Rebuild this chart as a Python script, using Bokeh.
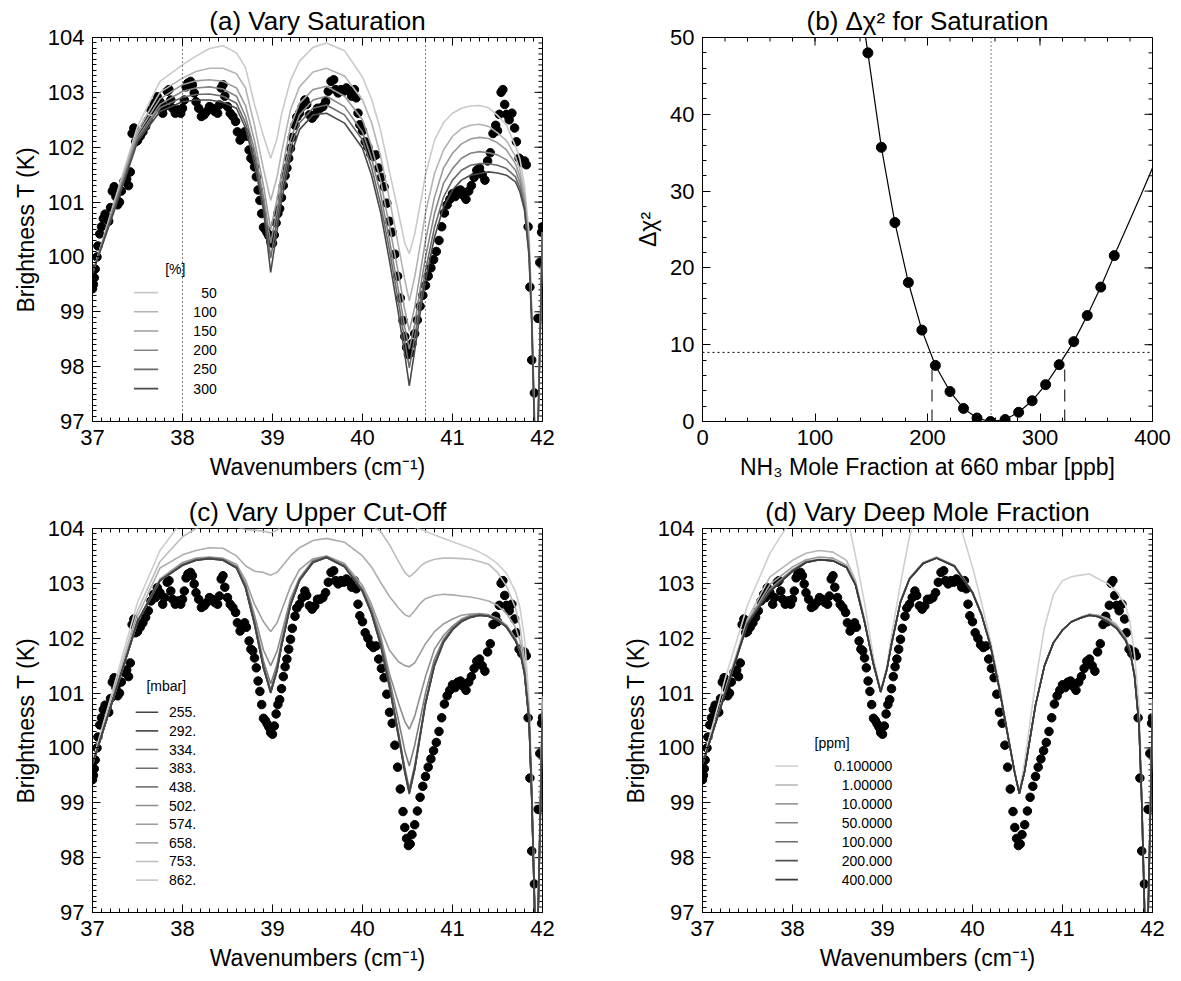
from bokeh.plotting import figure
from bokeh.layouts import gridplot
from bokeh.models import FixedTicker, Range1d, Span
from bokeh.core.properties import value
from bokeh.embed import file_html
from bokeh.resources import INLINE

FONT = "Liberation Sans"

# ---------------- observed spectrum (dots, same in panels a, c, d) ----------------
obs_wn = [37.00, 37.01, 37.02, 37.03, 37.05, 37.06, 37.08, 37.10, 37.12, 37.14, 37.16, 37.18, 37.20, 37.22,
          37.24, 37.26, 37.28, 37.30, 37.32, 37.35, 37.38, 37.40, 37.42, 37.44, 37.46, 37.48, 37.50, 37.53,
          37.56, 37.59, 37.62, 37.65, 37.68, 37.70, 37.72, 37.75, 37.78, 37.80, 37.83, 37.85, 37.87, 37.89,
          37.92, 37.95, 37.98, 38.00, 38.02, 38.04, 38.06, 38.09, 38.11, 38.13, 38.15, 38.18, 38.21, 38.24,
          38.27, 38.30, 38.33, 38.36, 38.39, 38.41, 38.43, 38.45, 38.47, 38.50, 38.53, 38.56, 38.59, 38.61,
          38.64, 38.66, 38.69, 38.71, 38.74, 38.76, 38.78, 38.80, 38.82, 38.84, 38.86, 38.88, 38.90, 38.92,
          38.94, 38.96, 38.98, 39.00, 39.02, 39.04, 39.06, 39.08, 39.10, 39.12, 39.14, 39.16, 39.18, 39.20,
          39.22, 39.25, 39.27, 39.30, 39.33, 39.36, 39.38, 39.41, 39.44, 39.47, 39.50, 39.53, 39.56, 39.59,
          39.62, 39.65, 39.68, 39.70, 39.73, 39.76, 39.79, 39.82, 39.85, 39.88, 39.91, 39.93, 39.95, 39.97,
          40.00, 40.03, 40.06, 40.09, 40.12, 40.15, 40.18, 40.21, 40.24, 40.27, 40.30, 40.33, 40.36, 40.39,
          40.42, 40.45, 40.47, 40.49, 40.51, 40.53, 40.55, 40.58, 40.61, 40.64, 40.67, 40.70, 40.73, 40.76,
          40.79, 40.82, 40.85, 40.88, 40.91, 40.94, 40.97, 41.00, 41.03, 41.06, 41.09, 41.12, 41.15, 41.18,
          41.21, 41.24, 41.27, 41.30, 41.33, 41.36, 41.39, 41.42, 41.45, 41.48, 41.50, 41.52, 41.54, 41.56,
          41.58, 41.60, 41.63, 41.66, 41.69, 41.71, 41.74, 41.77, 41.80, 41.82, 41.84, 41.86, 41.88, 41.91,
          41.95, 41.97, 41.99, 42.00]
obs_tb = [99.42, 99.50, 99.62, 99.78, 100.00, 100.20, 100.42, 100.55, 100.70, 100.78, 100.72, 100.65, 100.90, 101.20,
          101.28, 101.10, 100.95, 101.00, 101.20, 101.38, 101.42, 101.30, 101.55, 102.25, 102.35, 102.10, 102.12, 102.20,
          102.28, 102.38, 102.50, 102.68, 102.80, 102.74, 102.92, 102.83, 102.62, 102.74, 103.02, 103.05, 102.86, 102.71,
          102.62, 102.68, 102.62, 102.71, 102.86, 103.10, 103.17, 103.20, 103.14, 102.99, 102.83, 102.71, 102.56, 102.59,
          102.65, 102.74, 102.71, 102.65, 102.62, 102.77, 103.08, 103.14, 102.93, 102.74, 102.62, 102.56, 102.47, 102.28,
          102.13, 102.20, 102.28, 102.20, 101.95, 101.80, 101.77, 101.64, 101.46, 101.22, 101.03, 100.79, 100.54, 100.50,
          100.44, 100.38, 100.28, 100.25, 100.40, 100.62, 100.79, 100.88, 101.08, 101.30, 101.48, 101.62, 101.80, 101.98,
          102.18, 102.40, 102.55, 102.62, 102.74, 102.86, 102.78, 102.59, 102.53, 102.59, 102.71, 102.71, 102.74, 102.83,
          103.02, 103.20, 103.23, 103.05, 102.99, 103.05, 103.02, 103.08, 103.02, 102.93, 103.05, 102.90, 102.62, 102.41,
          102.30, 102.10, 102.00, 101.88, 101.83, 101.86, 101.62, 101.45, 101.28, 100.98, 100.65, 100.45, 100.05, 99.65,
          99.25, 98.84, 98.55, 98.35, 98.22, 98.25, 98.42, 98.60, 98.85, 99.10, 99.30, 99.48, 99.65, 99.80,
          99.95, 100.10, 100.30, 100.55, 100.80, 100.95, 101.05, 101.15, 101.10, 101.20, 101.22, 101.12, 101.05, 101.20,
          101.30, 101.45, 101.58, 101.62, 101.50, 101.40, 101.75, 101.90, 102.25, 102.40, 102.30, 102.60, 103.00, 103.05,
          102.78, 102.60, 102.50, 102.62, 102.35, 102.10, 101.80, 101.72, 101.75, 101.68, 100.55, 99.45, 98.12, 97.52,
          98.88, 99.90, 100.45, 100.55]

# ---------------- model wavenumber grid (panels a, c, d) ----------------
model_wn = [37.0, 37.25, 37.5, 37.75, 38.0, 38.15, 38.3, 38.45, 38.6, 38.7, 38.8, 38.9, 38.98, 39.05, 39.1, 39.2,
            39.3, 39.45, 39.6, 39.8, 40.0, 40.1, 40.2, 40.3, 40.4, 40.47, 40.52, 40.58, 40.65, 40.7, 40.8, 40.9,
            41.0, 41.1, 41.2, 41.3, 41.4, 41.5, 41.6, 41.7, 41.75, 41.8, 41.85, 41.88, 41.91, 41.93, 41.96, 42.0]

# ---------------- (a) vary saturation [%] ----------------
a_labels = ["50", "100", "150", "200", "250", "300"]
a_colors = ["#cacaca", "#b4b4b4", "#9c9c9c", "#858585", "#6a6a6a", "#4a4a4a"]
a_sat50 = [99.70, 101.05, 102.38, 103.20, 103.50, 103.66, 103.80, 103.85, 103.72, 103.45, 102.78, 102.20, 101.80, 102.15,
           102.60, 103.22, 103.57, 103.82, 103.90, 103.76, 103.28, 102.88, 102.32, 101.55, 100.80, 100.25, 100.06, 100.42,
           101.03, 101.50, 102.13, 102.45, 102.62, 102.71, 102.75, 102.76, 102.72, 102.58, 102.40, 102.02, 101.78, 101.30,
           100.45, 99.10, 97.20, 95.50, 97.60, 100.45]
a_sat100 = [99.70, 101.02, 102.30, 103.00, 103.26, 103.38, 103.44, 103.44, 103.34, 103.08, 102.40, 101.60, 101.03, 101.45,
            101.90, 102.68, 103.10, 103.37, 103.44, 103.30, 102.86, 102.45, 101.85, 101.05, 100.20, 99.58, 99.20, 99.63,
            100.30, 100.80, 101.52, 101.95, 102.20, 102.34, 102.40, 102.42, 102.38, 102.26, 102.12, 101.83, 101.58, 101.15,
            100.32, 99.00, 97.10, 95.50, 97.60, 100.45]
a_sat150 = [99.70, 100.98, 102.24, 102.88, 103.14, 103.21, 103.23, 103.20, 103.08, 102.76, 102.12, 101.30, 100.50, 101.05,
            101.52, 102.38, 102.80, 103.05, 103.11, 102.93, 102.50, 102.02, 101.40, 100.55, 99.70, 99.03, 98.65, 99.08,
            99.80, 100.30, 101.09, 101.62, 101.89, 102.06, 102.15, 102.18, 102.16, 102.08, 101.95, 101.70, 101.46, 101.04,
            100.22, 98.95, 97.05, 95.50, 97.60, 100.45]
a_sat200 = [99.70, 100.95, 102.18, 102.78, 103.02, 103.08, 103.10, 103.06, 102.93, 102.56, 101.95, 101.10, 100.25, 100.85,
            101.34, 102.13, 102.59, 102.86, 102.93, 102.74, 102.28, 101.80, 101.16, 100.30, 99.38, 98.71, 98.32, 98.77,
            99.51, 99.99, 100.79, 101.34, 101.61, 101.80, 101.89, 101.92, 101.90, 101.86, 101.77, 101.58, 101.35, 100.97,
            100.15, 98.90, 97.00, 95.50, 97.60, 100.45]
a_sat250 = [99.70, 100.92, 102.14, 102.72, 102.91, 102.96, 102.97, 102.93, 102.80, 102.44, 101.83, 100.97, 99.98, 100.67,
            101.19, 101.98, 102.44, 102.71, 102.77, 102.59, 102.13, 101.64, 100.97, 100.12, 99.17, 98.47, 97.98, 98.53,
            99.26, 99.75, 100.54, 101.09, 101.40, 101.58, 101.67, 101.70, 101.70, 101.67, 101.61, 101.46, 101.25, 100.91,
            100.08, 98.85, 96.95, 95.50, 97.60, 100.45]
a_sat300 = [99.70, 100.88, 102.10, 102.65, 102.83, 102.86, 102.86, 102.82, 102.71, 102.35, 101.70, 100.85, 99.72, 100.48,
            101.03, 101.83, 102.32, 102.59, 102.62, 102.44, 101.98, 101.49, 100.82, 99.93, 98.96, 98.22, 97.65, 98.29,
            99.08, 99.57, 100.36, 100.91, 101.22, 101.40, 101.49, 101.52, 101.55, 101.53, 101.49, 101.37, 101.18, 100.85,
            100.02, 98.80, 96.90, 95.50, 97.60, 100.45]
a_series = [a_sat50, a_sat100, a_sat150, a_sat200, a_sat250, a_sat300]
a_marks = [38.0, 40.7]

# ---------------- (b) delta chi^2 ----------------
b_ppb = [147, 159, 171, 183, 195, 207, 220, 232, 244, 256, 269, 281, 293, 305, 317, 330, 342, 354, 366]
b_dchi = [48.0, 35.7, 25.9, 18.1, 11.9, 7.3, 3.9, 1.7, 0.45, 0.0, 0.26, 1.2, 2.7, 4.8, 7.4, 10.4, 13.8, 17.5, 21.6]
b_fit_ppb = [144.5, 147, 159, 171, 183, 195, 207, 220, 232, 244, 256, 269, 281, 293, 305, 317, 330, 342, 354, 366,
             378, 390, 400]
b_fit_dchi = [50.5, 48.0, 35.7, 25.9, 18.1, 11.9, 7.3, 3.9, 1.7, 0.45, 0.0, 0.26, 1.2, 2.7, 4.8, 7.4, 10.4, 13.8,
              17.5, 21.6, 25.6, 29.6, 33.0]
b_best = 256.5
b_lo = 204.0
b_hi = 322.0
b_thresh = 9.0
b_err_top = 7.2

# ---------------- (c) vary upper cut-off [mbar] ----------------
c_labels = ["255.", "292.", "334.", "383.", "438.", "502.", "574.", "658.", "753.", "862."]
c_colors = ["#454545", "#525252", "#606060", "#6e6e6e", "#7c7c7c", "#8c8c8c", "#9c9c9c", "#acacac", "#bcbcbc", "#cdcdcd"]
c_p255 = [99.70, 101.00, 102.30, 103.05, 103.33, 103.42, 103.45, 103.42, 103.28, 102.92, 102.25, 101.45, 101.00, 101.40,
          101.85, 102.60, 103.05, 103.38, 103.47, 103.30, 102.85, 102.45, 101.88, 101.10, 100.20, 99.55, 99.16, 99.60,
          100.30, 100.80, 101.50, 101.92, 102.15, 102.30, 102.38, 102.42, 102.40, 102.33, 102.20, 101.95, 101.75, 101.35,
          100.50, 99.10, 97.20, 95.50, 97.60, 100.50]
c_p292 = [99.70, 101.00, 102.30, 103.05, 103.33, 103.42, 103.45, 103.42, 103.28, 102.92, 102.26, 101.46, 101.01, 101.41,
          101.86, 102.60, 103.05, 103.38, 103.47, 103.30, 102.85, 102.45, 101.89, 101.11, 100.22, 99.57, 99.18, 99.61,
          100.31, 100.81, 101.51, 101.93, 102.16, 102.31, 102.38, 102.42, 102.40, 102.33, 102.20, 101.95, 101.75, 101.35,
          100.50, 99.10, 97.20, 95.50, 97.60, 100.55]
c_p334 = [99.70, 101.00, 102.30, 103.05, 103.33, 103.42, 103.46, 103.43, 103.29, 102.93, 102.27, 101.47, 101.02, 101.42,
          101.87, 102.61, 103.06, 103.39, 103.48, 103.31, 102.86, 102.46, 101.90, 101.13, 100.24, 99.59, 99.20, 99.63,
          100.33, 100.82, 101.52, 101.93, 102.16, 102.31, 102.38, 102.42, 102.40, 102.33, 102.20, 101.96, 101.76, 101.36,
          100.52, 99.12, 97.20, 95.50, 97.60, 100.60]
c_p383 = [99.70, 101.00, 102.30, 103.05, 103.34, 103.43, 103.46, 103.43, 103.29, 102.94, 102.29, 101.50, 101.05, 101.45,
          101.89, 102.62, 103.06, 103.39, 103.48, 103.31, 102.87, 102.47, 101.92, 101.16, 100.28, 99.64, 99.25, 99.68,
          100.36, 100.84, 101.53, 101.94, 102.17, 102.32, 102.39, 102.42, 102.40, 102.33, 102.21, 101.96, 101.76, 101.37,
          100.53, 99.13, 97.25, 95.50, 97.60, 100.65]
c_p438 = [99.70, 101.00, 102.30, 103.05, 103.34, 103.43, 103.46, 103.43, 103.30, 102.96, 102.33, 101.58, 101.17, 101.52,
          101.94, 102.64, 103.07, 103.40, 103.48, 103.32, 102.88, 102.50, 101.97, 101.25, 100.50, 99.95, 99.67, 100.05,
          100.60, 101.00, 101.62, 101.98, 102.19, 102.33, 102.40, 102.43, 102.41, 102.34, 102.21, 101.97, 101.77, 101.38,
          100.55, 99.15, 97.25, 95.50, 97.60, 100.70]
c_p502 = [99.70, 101.00, 102.30, 103.05, 103.35, 103.44, 103.47, 103.44, 103.31, 102.99, 102.42, 101.78, 101.50, 101.76,
          102.08, 102.72, 103.10, 103.42, 103.49, 103.33, 102.90, 102.55, 102.05, 101.35, 100.82, 100.48, 100.34, 100.58,
          101.00, 101.30, 101.80, 102.05, 102.22, 102.35, 102.42, 102.44, 102.42, 102.35, 102.22, 101.98, 101.78, 101.40,
          100.58, 99.18, 97.30, 95.50, 97.65, 100.75]
c_p574 = [99.70, 101.00, 102.31, 103.08, 103.38, 103.46, 103.48, 103.46, 103.35, 103.06, 102.62, 102.30, 102.12, 102.28,
          102.50, 102.94, 103.25, 103.45, 103.50, 103.36, 102.96, 102.62, 102.18, 101.78, 101.57, 101.50, 101.48, 101.55,
          101.75, 101.90, 102.12, 102.26, 102.35, 102.42, 102.44, 102.45, 102.43, 102.36, 102.24, 102.00, 101.80, 101.42,
          100.60, 99.20, 97.30, 95.50, 97.65, 100.80]
c_p658 = [99.70, 101.04, 102.40, 103.28, 103.52, 103.60, 103.65, 103.64, 103.50, 103.32, 103.22, 103.20, 103.15, 103.20,
          103.30, 103.50, 103.65, 103.78, 103.82, 103.75, 103.50, 103.30, 103.02, 102.76, 102.55, 102.43, 102.39, 102.50,
          102.65, 102.72, 102.78, 102.80, 102.79, 102.77, 102.75, 102.72, 102.68, 102.60, 102.45, 102.20, 101.95, 101.50,
          100.70, 99.30, 97.35, 95.50, 97.70, 100.85]
c_p753 = [99.72, 101.10, 102.50, 103.40, 103.85, 104.00, 104.08, 104.08, 104.03, 103.98, 103.97, 103.95, 103.92, 103.97,
          104.05, 104.20, 104.30, 104.38, 104.40, 104.35, 104.15, 104.05, 103.95, 103.70, 103.40, 103.20, 103.12, 103.20,
          103.32, 103.38, 103.44, 103.46, 103.46, 103.45, 103.44, 103.40, 103.35, 103.20, 102.95, 102.55, 102.20, 101.60,
          100.60, 99.20, 97.35, 95.50, 97.75, 100.90]
c_p862 = [99.75, 101.20, 102.65, 103.60, 104.15, 104.35, 104.50, 104.55, 104.50, 104.45, 104.40, 104.40, 104.38, 104.40,
          104.45, 104.55, 104.65, 104.70, 104.72, 104.68, 104.55, 104.45, 104.35, 104.25, 104.15, 104.08, 104.05, 104.02,
          103.98, 103.95, 103.88, 103.82, 103.76, 103.70, 103.64, 103.57, 103.48, 103.36, 103.18, 102.85, 102.55, 102.00,
          100.90, 99.50, 97.40, 95.50, 97.80, 100.95]
c_series = [c_p255, c_p292, c_p334, c_p383, c_p438, c_p502, c_p574, c_p658, c_p753, c_p862]

# ---------------- (d) vary deep mole fraction [ppm] ----------------
d_labels = ["0.100000", "1.00000", "10.0000", "50.0000", "100.000", "200.000", "400.000"]
d_colors = ["#cfcfcf", "#b5b5b5", "#9b9b9b", "#838383", "#6a6a6a", "#525252", "#3a3a3a"]
d_q01 = [99.72, 101.25, 102.60, 103.55, 104.20, 104.60, 104.90, 104.90, 104.30, 103.50, 102.65, 101.65, 101.05, 101.50,
         102.05, 103.00, 103.85, 104.60, 104.90, 104.40, 103.30, 102.65, 101.95, 101.15, 100.20, 99.55, 99.20, 99.75,
         100.60, 101.20, 102.20, 102.80, 103.05, 103.12, 103.15, 103.17, 103.08, 103.00, 102.85, 102.60, 102.30, 101.70,
         100.80, 99.40, 97.30, 95.50, 97.80, 100.90]
d_q1 = [99.70, 101.05, 102.35, 103.12, 103.42, 103.55, 103.60, 103.57, 103.42, 103.05, 102.35, 101.55, 101.03, 101.45,
        101.90, 102.68, 103.10, 103.38, 103.48, 103.33, 102.85, 102.45, 101.88, 101.08, 100.18, 99.55, 99.17, 99.58,
        100.28, 100.78, 101.50, 101.92, 102.15, 102.30, 102.38, 102.44, 102.42, 102.36, 102.25, 102.02, 101.80, 101.35,
        100.45, 99.05, 97.15, 95.50, 97.60, 100.60]
d_q10 = [99.70, 101.02, 102.30, 102.98, 103.30, 103.43, 103.48, 103.46, 103.33, 103.00, 102.32, 101.53, 101.02, 101.44,
         101.89, 102.67, 103.09, 103.37, 103.47, 103.32, 102.84, 102.44, 101.87, 101.07, 100.17, 99.54, 99.17, 99.58,
         100.28, 100.78, 101.50, 101.92, 102.15, 102.30, 102.38, 102.43, 102.41, 102.34, 102.22, 102.00, 101.78, 101.34,
         100.44, 99.05, 97.15, 95.50, 97.60, 100.60]
d_q50 = [99.70, 101.00, 102.28, 102.90, 103.25, 103.40, 103.44, 103.42, 103.30, 102.98, 102.31, 101.52, 101.02, 101.44,
         101.89, 102.66, 103.08, 103.36, 103.46, 103.31, 102.83, 102.43, 101.86, 101.06, 100.16, 99.54, 99.17, 99.58,
         100.28, 100.78, 101.50, 101.92, 102.15, 102.30, 102.37, 102.42, 102.40, 102.32, 102.20, 101.98, 101.77, 101.33,
         100.43, 99.05, 97.15, 95.50, 97.60, 100.60]
d_q100 = [99.70, 100.99, 102.27, 102.87, 103.23, 103.38, 103.43, 103.41, 103.29, 102.97, 102.30, 101.52, 101.02, 101.44,
          101.89, 102.66, 103.08, 103.36, 103.46, 103.31, 102.83, 102.43, 101.86, 101.06, 100.16, 99.54, 99.17, 99.58,
          100.28, 100.78, 101.50, 101.92, 102.15, 102.30, 102.37, 102.42, 102.39, 102.31, 102.19, 101.97, 101.76, 101.32,
          100.42, 99.05, 97.15, 95.50, 97.60, 100.60]
d_q200 = [99.70, 100.99, 102.26, 102.86, 103.22, 103.38, 103.43, 103.41, 103.29, 102.97, 102.30, 101.52, 101.02, 101.44,
          101.89, 102.66, 103.08, 103.36, 103.46, 103.31, 102.83, 102.43, 101.86, 101.06, 100.16, 99.54, 99.17, 99.58,
          100.28, 100.78, 101.50, 101.92, 102.15, 102.30, 102.37, 102.42, 102.39, 102.30, 102.18, 101.96, 101.75, 101.31,
          100.42, 99.05, 97.15, 95.50, 97.60, 100.60]
d_q400 = [99.70, 100.98, 102.26, 102.85, 103.22, 103.38, 103.43, 103.41, 103.29, 102.97, 102.30, 101.52, 101.02, 101.44,
          101.89, 102.66, 103.08, 103.36, 103.46, 103.31, 102.83, 102.43, 101.86, 101.06, 100.16, 99.54, 99.17, 99.58,
          100.28, 100.78, 101.50, 101.92, 102.15, 102.30, 102.37, 102.42, 102.39, 102.30, 102.18, 101.96, 101.75, 101.31,
          100.42, 99.05, 97.15, 95.50, 97.60, 100.60]
d_series = [d_q01, d_q1, d_q10, d_q50, d_q100, d_q200, d_q400]

# ---------------- tick definitions ----------------
wn_ticks = [37, 38, 39, 40, 41, 42]
wn_minor = [round(37 + 0.1 * i, 2) for i in range(51)]
tb_ticks = [97, 98, 99, 100, 101, 102, 103, 104]
tb_minor = [round(97 + 0.1 * i, 2) for i in range(71)]
ppb_ticks = [0, 100, 200, 300, 400]
ppb_minor = [20 * i for i in range(21)]
chi_ticks = [0, 10, 20, 30, 40, 50]
chi_minor = [2 * i for i in range(26)]

TICK_FS = "22px"
LABEL_FS = "23px"
TITLE_FS = "26px"
LEG_FS = "14px"
FRAME_W = 450
FRAME_H = 384
MAJ = 8
MIN = 4


def style_axis(ax, ticks, minor):
    ax.ticker = FixedTicker(ticks=ticks, minor_ticks=minor)
    ax.major_tick_in = MAJ
    ax.major_tick_out = 0
    ax.minor_tick_in = MIN
    ax.minor_tick_out = 0
    ax.axis_line_color = "black"
    ax.major_tick_line_color = "black"
    ax.minor_tick_line_color = "black"
    ax.major_label_text_font = FONT
    ax.major_label_text_color = "black"
    ax.major_label_text_font_size = TICK_FS
    ax.major_label_standoff = 8
    ax.axis_label_text_font = FONT
    ax.axis_label_text_font_size = LABEL_FS
    ax.axis_label_text_font_style = "normal"
    ax.axis_label_text_color = "black"
    ax.axis_label_standoff = 6


def mirror_ticks(p, xr, yr, xt, xm, yt, ym):
    # inward ticks on the top and right edges of the box
    dx = (xr[1] - xr[0]) / FRAME_W
    dy = (yr[1] - yr[0]) / FRAME_H
    xs = list(xt) + list(xm)
    ls = [MAJ] * len(xt) + [MIN] * len(xm)
    p.segment(x0=xs, x1=xs, y0=[yr[1]] * len(xs), y1=[yr[1] - l * dy for l in ls],
              line_color="black", line_width=1)
    ys = list(yt) + list(ym)
    ls = [MAJ] * len(yt) + [MIN] * len(ym)
    p.segment(x0=[xr[1]] * len(ys), x1=[xr[1] - l * dx for l in ls], y0=ys, y1=ys,
              line_color="black", line_width=1)


def make_fig(width, height, top, xr, yr, xt, xm, yt, ym, title, xlabel, ylabel, left):
    right = width - left - FRAME_W
    bottom = height - top - FRAME_H
    p = figure(width=width, height=height, x_range=Range1d(*xr), y_range=Range1d(*yr),
               output_backend="svg", toolbar_location=None, tools="",
               min_border_left=left, min_border_right=right, min_border_top=top, min_border_bottom=bottom)
    p.title.text = title
    p.title.align = "center"
    p.title.text_font = FONT
    p.title.text_font_size = TITLE_FS
    p.title.text_font_style = "normal"
    p.title.text_color = "black"
    p.title.standoff = 4
    p.xgrid.visible = False
    p.ygrid.visible = False
    p.outline_line_color = "black"
    p.outline_line_alpha = 1.0
    p.background_fill_color = "white"
    p.border_fill_color = "white"
    style_axis(p.xaxis[0], xt, xm)
    style_axis(p.yaxis[0], yt, ym)
    p.xaxis[0].axis_label = xlabel
    p.yaxis[0].axis_label = ylabel
    mirror_ticks(p, xr, yr, xt, xm, yt, ym)
    return p


def spectrum_panel(height, top, left, width, title, series, colors, labels, header, leg):
    p = make_fig(width, height, top, (37, 42), (97, 104), wn_ticks, wn_minor, tb_ticks, tb_minor,
                 title, "Wavenumbers (cm\u207b\u00b9)", "Brightness T (K)", left)
    p.scatter(obs_wn, obs_tb, size=8.5, marker="circle", color="black")
    for i in leg["order"]:
        p.line(model_wn, series[i], line_color=colors[i], line_width=1.6)
    n = len(labels)
    ys = [leg["y0"] - leg["dy"] * k for k in range(n)]
    p.segment(x0=[leg["x0"]] * n, x1=[leg["x1"]] * n, y0=ys, y1=ys, line_color=colors, line_width=1.6)
    p.text(x=[leg["tx"]] * n, y=ys, text=labels, text_font=value(FONT), text_font_size=LEG_FS,
           text_align=leg["align"], text_baseline="middle", text_color="black")
    p.text(x=[leg["hx"]], y=[leg["hy"]], text=[header], text_font=value(FONT), text_font_size=LEG_FS,
           text_align="center", text_baseline="middle", text_color="black")
    return p


pa = spectrum_panel(490, 37, 92, 590, "(a) Vary Saturation", a_series, a_colors, a_labels, "[%]",
                    dict(order=range(6), hx=37.92, hy=99.78, x0=37.46, x1=37.73, tx=38.38,
                         y0=99.35, dy=0.35, align="right"))
for m in a_marks:
    pa.add_layout(Span(location=m, dimension="height", line_color="black", line_width=1, line_dash="1 3"))

pc = spectrum_panel(491, 38, 92, 590, "(c) Vary Upper Cut-Off", c_series, c_colors, c_labels, "[mbar]",
                    dict(order=range(9, -1, -1), hx=37.82, hy=101.13, x0=37.48, x1=37.73, tx=37.85,
                         y0=100.65, dy=0.34, align="left"))

pd_ = spectrum_panel(491, 38, 112, 591, "(d) Vary Deep Mole Fraction", d_series, d_colors, d_labels, "[ppm]",
                     dict(order=range(7), hx=38.44, hy=100.09, x0=37.81, x1=38.06, tx=39.11,
                          y0=99.67, dy=0.345, align="right"))

pb = make_fig(591, 490, 37, (0, 400), (0, 50), ppb_ticks, ppb_minor, chi_ticks, chi_minor,
              "(b) \u0394\u03c7\u00b2 for Saturation", "NH\u2083 Mole Fraction at 660 mbar [ppb]",
              "\u0394\u03c7\u00b2", 112)
pb.add_layout(Span(location=b_thresh, dimension="width", line_color="black", line_width=1, line_dash="2 3"))
pb.add_layout(Span(location=b_best, dimension="height", line_color="black", line_width=1, line_dash="1 3"))
pb.segment(x0=[b_lo, b_hi], x1=[b_lo, b_hi], y0=[0, 0], y1=[b_err_top, b_err_top],
           line_color="black", line_width=1, line_dash="12 8")
pb.line(b_fit_ppb, b_fit_dchi, line_color="black", line_width=1.2)
pb.scatter(b_ppb, b_dchi, size=10, marker="circle", color="black")

layout = gridplot([[pa, pb], [pc, pd_]], toolbar_location=None)

open("out.html", "w").write(file_html(layout, INLINE))
